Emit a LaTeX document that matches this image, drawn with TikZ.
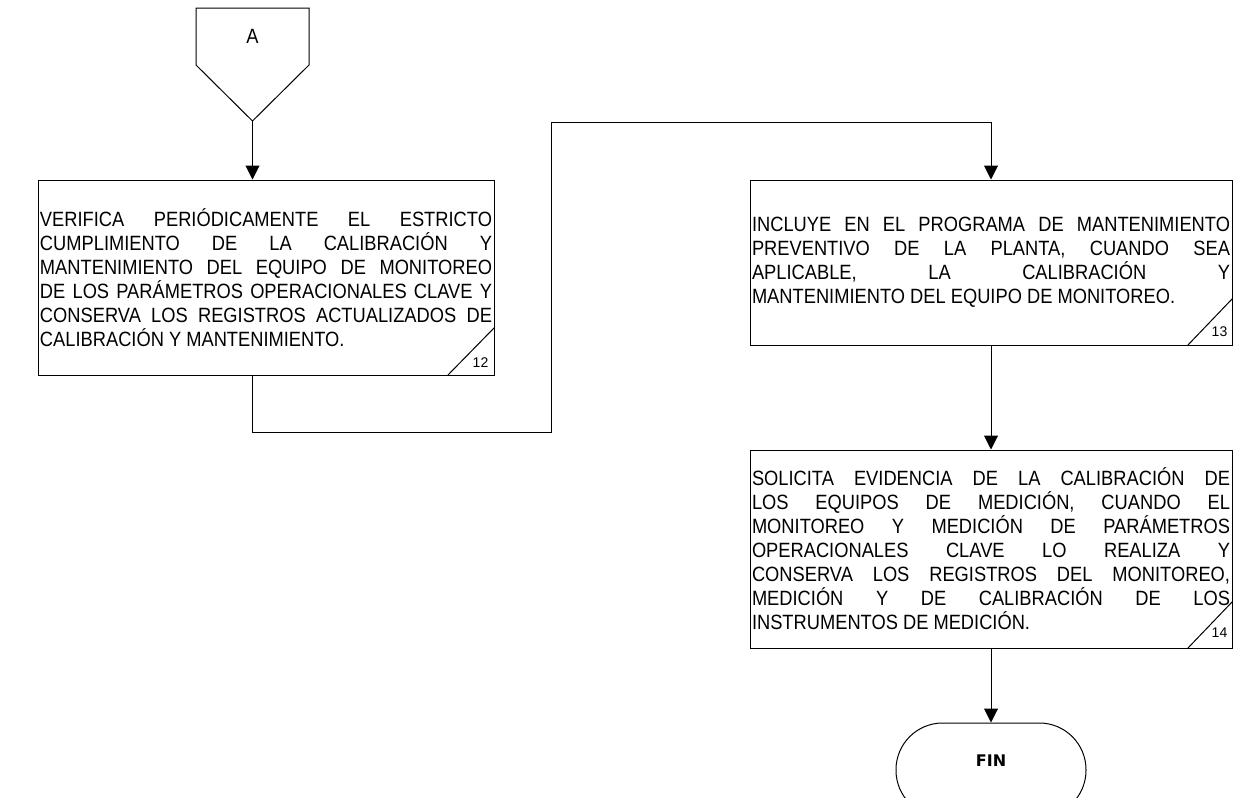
\documentclass[tikz,border=0pt]{standalone}
\usepackage{fontspec}
\setmainfont{Liberation Sans}
\newfontfamily\boxfont{Liberation Sans}[FakeStretch=0.885]
\newfontfamily\finfont{DejaVu Sans}
\usetikzlibrary{arrows.meta,calc}

\begin{document}
\begin{tikzpicture}[x=0.75pt,y=-0.75pt,line width=0.75pt,
	flow/.style={-{Triangle[width=10.5pt,length=10.5pt]}},
	activity/.style={draw,font=\boxfont\fontsize{15.5}{18}\selectfont,align=justify,inner xsep=1.5pt,inner ysep=0pt},
	terminal/.style={draw,rounded corners=35pt,minimum width=142.5pt,minimum height=70.5pt},
	stepnum/.style={font=\fontsize{10.5}{12}\selectfont,inner sep=0pt}]
	\useasboundingbox (0,0) rectangle (1233,797);

	\coordinate (tipA) at (252.5,121);
	\draw (196,8) -- (309,8) -- (309,65) -- (tipA) -- (196,65) -- cycle;
	\node[font=\boxfont\fontsize{15.5}{18}\selectfont] (conA) at (252.5,36) {A};

	\node[activity,text width=339pt,minimum height=146.25pt] (box1) at (266,277.5)
		{VERIFICA PERIÓDICAMENTE EL ESTRICTO\linebreak CUMPLIMIENTO DE LA CALIBRACIÓN Y\linebreak MANTENIMIENTO DEL EQUIPO DE MONITOREO\linebreak DE LOS PARÁMETROS OPERACIONALES CLAVE Y\linebreak CONSERVA LOS REGISTROS ACTUALIZADOS DE\linebreak CALIBRACIÓN Y MANTENIMIENTO.\par\vspace{8pt}};
	\draw ($(box1.south east)+(-47,0)$) -- ($(box1.south east)+(0,-48)$);
	\node[stepnum] (n12) at ($(box1.south east)+(-14,-13)$) {12};

	\node[activity,text width=358.5pt,minimum height=123.75pt] (box2) at (991,262.5)
		{INCLUYE EN EL PROGRAMA DE MANTENIMIENTO\linebreak PREVENTIVO DE LA PLANTA, CUANDO SEA\linebreak APLICABLE, LA CALIBRACIÓN Y\linebreak MANTENIMIENTO DEL EQUIPO DE MONITOREO.\par\vspace{8pt}};
	\draw ($(box2.south east)+(-45,0)$) -- ($(box2.south east)+(0,-47)$);
	\node[stepnum] (n13) at ($(box2.south east)+(-13,-14)$) {13};

	\node[activity,text width=358.5pt,minimum height=148.5pt] (box3) at (991,549)
		{SOLICITA EVIDENCIA DE LA CALIBRACIÓN DE\linebreak LOS EQUIPOS DE MEDICIÓN, CUANDO EL\linebreak MONITOREO Y MEDICIÓN DE PARÁMETROS\linebreak OPERACIONALES CLAVE LO REALIZA Y\linebreak CONSERVA LOS REGISTROS DEL MONITOREO,\linebreak MEDICIÓN Y DE CALIBRACIÓN DE LOS\linebreak INSTRUMENTOS DE MEDICIÓN.\par\vspace{8pt}};
	\draw ($(box3.south east)+(-45,0)$) -- ($(box3.south east)+(0,-47)$);
	\node[stepnum] (n14) at ($(box3.south east)+(-13,-16)$) {14};

	\node[terminal,label={[yshift=7pt,font=\finfont\bfseries\fontsize{12}{14}\selectfont]center:FIN}] (fin) at (991,770) {};

	\coordinate (jogL) at (551,432);
	\coordinate (jogR) at (551,122);
	\draw[flow] (tipA) -- (tipA |- box1.north);
	\draw[flow] (tipA |- box1.south) |- (jogL) -- (jogR) -| (box2.north);
	\draw[flow] (box2) -- (box3);
	\draw[flow] (box3) -- (fin);
\end{tikzpicture}
\end{document}
